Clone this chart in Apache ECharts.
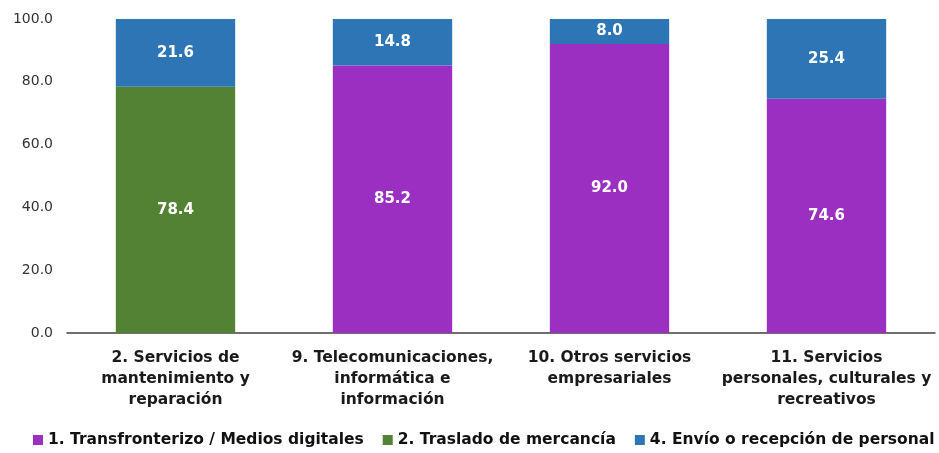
<!DOCTYPE html>
<html>
<head>
<meta charset="utf-8">
<script src="https://cdn.jsdelivr.net/npm/echarts@6/dist/echarts.min.js"></script>
<style>
  html, body { margin: 0; padding: 0; background: #fff; }
  #chart { width: 939px; height: 453px; }
</style>
</head>
<body>
<div id="chart"></div>
<script>
// categorias del eje x
const categories = [
  '2. Servicios de\nmantenimiento y\nreparación',
  '9. Telecomunicaciones,\ninformática e\ninformación',
  '10. Otros servicios\nempresariales',
  '11. Servicios\npersonales, culturales y\nrecreativos'
]
const seriesNames = [
  '1. Transfronterizo / Medios digitales',
  '2. Traslado de mercancía',
  '4. Envío o recepción de personal'
]
const transfronterizo = [null, 85.2, 92.0, 74.6]
const traslado = [78.4, null, null, null]
const envio = [21.6, 14.8, 8.0, 25.4]
const colors = ['#9b2fc1', '#548235', '#2e75b6']

const font = 'DejaVu Sans, Arial, sans-serif'
const labelStyle = {
  show: true,
  color: '#fff',
  fontWeight: 'bold',
  fontSize: 15,
  fontFamily: font,
  formatter: p => p.value == null ? '' : p.value.toFixed(1)
}

const chart = echarts.init(document.getElementById('chart'))
chart.setOption({
  animation: false,
  color: colors,
  grid: { left: 67, right: 4, top: 19, bottom: 120 },
  legend: {
    bottom: 5,
    left: 33,
    right: 0,
    padding: 0,
    itemWidth: 10,
    itemHeight: 10,
    itemGap: 19,
    icon: 'rect',
    textStyle: { fontFamily: font, fontSize: 15.5, fontWeight: 'bold', color: '#111' },
    data: seriesNames
  },
  xAxis: {
    type: 'category',
    data: categories,
    axisLine: { lineStyle: { color: '#404040', width: 1.5 } },
    axisTick: { show: false },
    axisLabel: {
      interval: 0,
      margin: 14,
      color: '#1a1a1a',
      fontFamily: font,
      fontSize: 15.5,
      fontWeight: 'bold',
      lineHeight: 21
    }
  },
  yAxis: {
    type: 'value',
    min: 0,
    max: 100,
    interval: 20,
    splitLine: { show: false },
    axisLine: { show: false },
    axisLabel: {
      margin: 14,
      color: '#333',
      fontFamily: font,
      fontSize: 14,
      formatter: v => v.toFixed(1)
    }
  },
  series: [
    { name: seriesNames[0], type: 'bar', stack: 'total', barWidth: '55%', data: transfronterizo, label: labelStyle },
    { name: seriesNames[1], type: 'bar', stack: 'total', barWidth: '55%', data: traslado, label: labelStyle },
    { name: seriesNames[2], type: 'bar', stack: 'total', barWidth: '55%', data: envio, label: labelStyle }
  ]
})
</script>
</body>
</html>
